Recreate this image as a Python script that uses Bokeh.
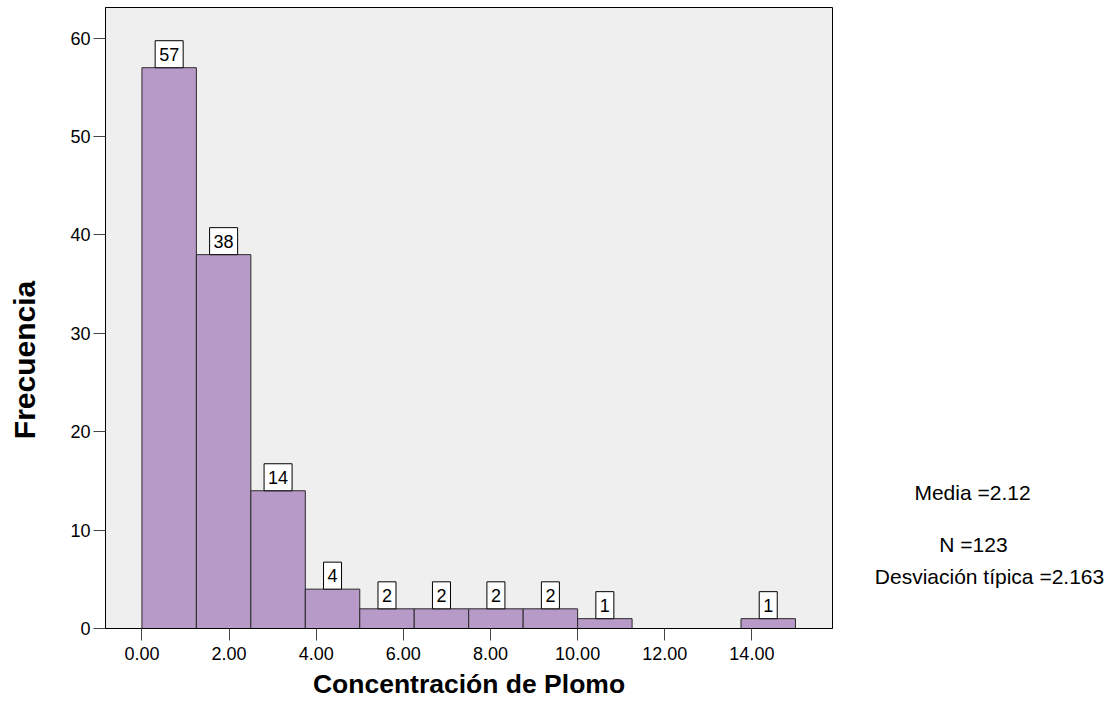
import math
from bokeh.plotting import figure
from bokeh.layouts import row
from bokeh.models import Range1d, FixedTicker, NumeralTickFormatter, Label
from bokeh.core.properties import value
from bokeh.embed import file_html
from bokeh.resources import INLINE

# Data
bin_edges = [0.0, 1.25, 2.5, 3.75, 5.0, 6.25, 7.5, 8.75, 10.0, 11.25, 12.5, 13.75, 15.0]
counts = [57, 38, 14, 4, 2, 2, 2, 2, 1, 0, 0, 1]
x_ticks = [0, 2, 4, 6, 8, 10, 12, 14]
y_ticks = [0, 10, 20, 30, 40, 50, 60]
stats_text = ["Media =2.12", "N =123", "Desviación típica =2.163"]
x_title = "Concentración de Plomo"
y_title = "Frecuencia"

FONT = "Liberation Sans"
H = 701
TOP, BOTTOM = 7, 72
LW, MW, RW = 40, 793, 279


def side_fig(w):
    f = figure(width=w, height=H, output_backend="svg", toolbar_location=None,
               x_range=Range1d(0, w), y_range=Range1d(BOTTOM, H - TOP),
               x_axis_type=None, y_axis_type=None,
               min_border_left=0, min_border_right=0,
               min_border_top=TOP, min_border_bottom=BOTTOM)
    f.outline_line_color = None
    f.grid.visible = False
    f.background_fill_color = "white"
    f.border_fill_color = "white"
    return f


# left strip with the y title
pl = side_fig(LW)
pl.text(x=[24], y=[H - 360], text=[y_title], angle=math.pi / 2,
        text_align="center", text_baseline="middle",
        text_font=value(FONT), text_font_style="bold", text_font_size="30px",
        text_color="black")

# main histogram
p = figure(width=MW, height=H, output_backend="svg", toolbar_location=None,
           x_range=Range1d(-0.836, 15.85), y_range=Range1d(0, 63.12),
           min_border_left=65, min_border_right=1, min_border_top=TOP, min_border_bottom=BOTTOM)

p.background_fill_color = "#efefef"
p.border_fill_color = "white"
p.outline_line_color = "black"
p.outline_line_width = 1
p.grid.visible = False

left = bin_edges[:-1]
right = bin_edges[1:]
p.quad(left=left, right=right, bottom=0, top=counts,
       fill_color="#b89ac9", line_color="#2a2a2a", line_width=1)

for l, r, c in zip(left, right, counts):
    if c > 0:
        p.add_layout(Label(x=(l + r) / 2, y=c, text=str(c), text_align="center",
                           text_baseline="bottom", text_font=FONT, text_font_size="18px",
                           text_color="black", background_fill_color="white",
                           border_line_color="black", border_line_width=1,
                           padding=(4, 7)))

p.xaxis.ticker = FixedTicker(ticks=x_ticks)
p.yaxis.ticker = FixedTicker(ticks=y_ticks)
p.xaxis.formatter = NumeralTickFormatter(format="0.00")
p.xaxis.minor_tick_line_color = None
p.yaxis.minor_tick_line_color = None

for ax in (p.xaxis, p.yaxis):
    ax.major_tick_in = 0
    ax.major_tick_out = 12
    ax.major_tick_line_color = "#444444"
    ax.axis_line_color = "black"
    ax.major_label_text_font = FONT
    ax.major_label_text_font_size = "18px"
    ax.major_label_text_color = "black"

p.xaxis.axis_label = x_title
p.xaxis.axis_label_text_font = FONT
p.xaxis.axis_label_text_font_style = "bold"
p.xaxis.axis_label_text_color = "black"
p.xaxis.axis_label_text_font_size = "26.5px"
p.xaxis.major_label_standoff = 6
p.xaxis.axis_label_standoff = 6
p.yaxis.major_label_standoff = 3

# right strip with the statistics
pr = side_fig(RW)
pr.text(x=[139, 140, 156], y=[H - 493, H - 545, H - 577], text=stats_text,
        text_align="center", text_baseline="middle",
        text_font=value(FONT), text_font_size="21px", text_color="black")

layout = row(pl, p, pr, spacing=0)
open("out.html", "w").write(file_html(layout, INLINE))
